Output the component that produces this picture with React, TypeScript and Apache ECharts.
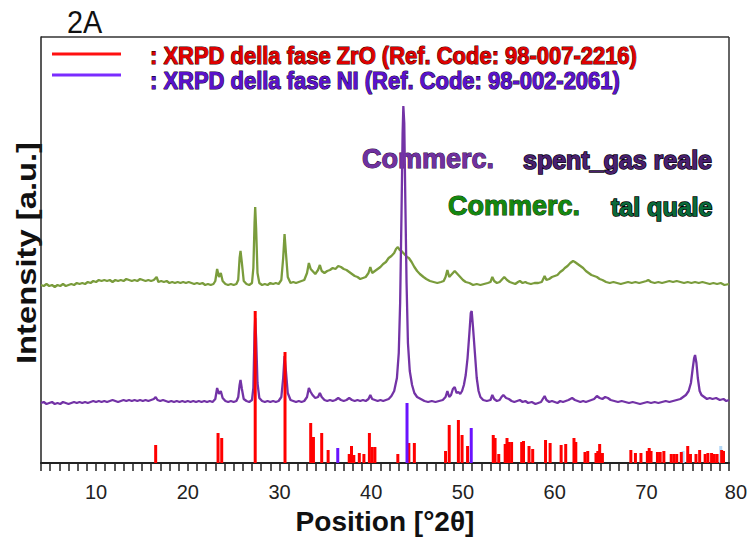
import React, { useEffect, useRef } from "react";
import * as echarts from "echarts";

// Commerc. tal quale (green) – [2θ, intensity]
const talQuale: number[][] = [
  [4.0,178],[4.3,177],[4.6,179],[4.9,177],[5.2,178],[5.5,176],[5.8,178],[6.1,177],[6.4,179],[6.7,177],[7.0,178],[7.3,179],[7.6,178],[7.9,180],[8.2,179],[8.5,180],[8.8,179],[9.1,181],[9.4,180],[9.7,182],[10.0,181],[10.3,183],[10.6,182],[10.9,183],[11.2,182],[11.5,183],[11.8,181],[12.1,183],[12.4,182],[12.7,183],[13.0,182],[13.3,184],[13.6,183],[13.9,182],[14.2,183],[14.5,182],[14.8,184],[15.1,183],[15.4,182],[15.7,183],[16.0,182],[16.3,183],[16.6,186],[16.8,181],[17.1,182],[17.4,181],[17.7,182],[18.0,180],[18.3,181],[18.6,180],[18.9,181],[19.2,180],[19.5,181],[19.8,180],[20.1,181],[20.4,180],[20.7,179],[21.0,180],[21.3,179],[21.6,180],[21.9,178],[22.2,179],[22.5,178],[22.8,179],
  [23.0,182],[23.2,194],[23.4,186],[23.6,190],[23.8,182],[24.1,179],[24.4,178],[24.7,179],[25.0,178],[25.3,179],[25.5,183],[25.65,205],[25.75,212],[25.9,200],[26.1,182],[26.4,179],[26.7,178],[27.0,180],[27.15,195],[27.28,240],[27.35,256],[27.45,235],[27.6,190],[27.8,180],[28.1,178],[28.4,179],[28.7,178],[29.0,180],[29.3,179],[29.6,180],[29.9,179],[30.2,183],[30.4,205],[30.55,229],[30.7,210],[30.9,186],[31.2,180],[31.5,181],[31.8,180],[32.1,181],[32.4,182],[32.7,183],
  [33.0,190],[33.2,200],[33.4,194],[33.6,192],[33.9,189],[34.2,193],[34.4,198],[34.6,192],[34.9,190],[35.2,192],[35.5,193],[35.8,195],[36.1,194],[36.4,197],[36.7,196],[37.0,194],[37.3,193],[37.6,191],[37.9,189],[38.2,187],[38.5,186],[38.8,184],[39.1,185],[39.4,186],[39.7,190],[39.9,196],[40.1,190],[40.4,192],[40.7,194],[41.0,196],[41.3,199],[41.6,201],[41.9,205],[42.2,207],[42.5,210],[42.7,214],[42.9,216],[43.1,213],[43.3,212],[43.5,210],[43.7,208],[43.9,206],[44.1,205],[44.4,201],[44.7,196],[45.0,192],[45.3,189],[45.7,186],[46.0,184],[46.4,182],[46.8,181],[47.2,180],[47.6,181],[47.9,182],
  [48.1,186],[48.3,193],[48.5,186],[48.7,188],[48.9,190],[49.1,192],[49.3,190],[49.5,188],[49.7,186],[50.0,183],[50.3,181],[50.7,180],[51.1,178],[51.5,179],[51.9,178],[52.3,179],[52.7,180],[53.0,181],[53.2,186],[53.4,182],[53.7,180],[54.0,181],[54.3,184],[54.5,186],[54.8,183],[55.1,181],[55.4,180],[55.7,179],[56.0,181],[56.2,182],[56.5,180],[56.8,181],[57.0,180],[57.4,179],[57.8,180],[58.2,180],[58.6,181],[58.9,187],[59.1,183],[59.4,184],[59.7,186],[60.0,187],[60.3,188],[60.6,191],[60.9,193],[61.1,195],[61.4,197],[61.7,200],[62.0,202],[62.2,201],[62.5,199],[62.8,197],[63.1,195],[63.4,192],[63.7,190],[64.0,188],[64.3,187],[64.6,186],[64.9,184],[65.2,183],[65.6,181],
  [66.0,180],[66.4,181],[66.8,180],[67.2,179],[67.6,180],[68.0,181],[68.4,180],[68.8,181],[69.2,180],[69.6,181],[70.0,182],[70.2,183],[70.5,181],[70.9,180],[71.3,181],[71.7,180],[72.1,181],[72.5,182],[72.9,181],[73.3,182],[73.7,181],[74.1,180],[74.5,181],[74.9,180],[75.3,181],[75.7,180],[76.1,181],[76.5,180],[76.9,179],[77.3,180],[77.7,179],[78.1,180],[78.5,178],[79.0,179]
];

// Commerc. spent_gas reale (purple)
const spentGas: number[][] = [
  [4.0,60],[4.3,61],[4.6,59],[4.9,60],[5.2,61],[5.5,59],[5.8,60],[6.1,59],[6.4,61],[6.7,60],[7.0,59],[7.3,60],[7.6,61],[7.9,60],[8.2,61],[8.5,60],[8.8,61],[9.1,60],[9.4,61],[9.7,62],[10.0,61],[10.3,62],[10.6,61],[10.9,62],[11.2,61],[11.5,62],[11.8,63],[12.1,62],[12.4,61],[12.7,62],[13.0,63],[13.3,62],[13.6,63],[13.9,62],[14.2,63],[14.5,62],[14.8,63],[15.1,62],[15.4,63],[15.7,62],[16.0,63],[16.3,64],[16.5,66],[16.7,63],[17.0,62],[17.3,63],[17.6,62],[17.9,61],[18.2,62],[18.5,61],[18.8,62],[19.1,61],[19.4,62],[19.7,61],[20.0,62],[20.3,61],[20.6,62],[20.9,61],[21.2,62],[21.5,61],[21.8,62],[22.1,61],[22.4,62],[22.7,61],
  [23.0,64],[23.2,75],[23.4,69],[23.6,72],[23.8,65],[24.1,62],[24.4,61],[24.7,62],[25.0,61],[25.3,62],[25.5,66],[25.65,78],[25.75,83],[25.9,74],[26.1,64],[26.4,62],[26.7,61],[27.0,63],[27.15,75],[27.28,130],[27.35,145],[27.45,125],[27.6,80],[27.8,65],[28.1,62],[28.4,61],[28.7,62],[29.0,61],[29.3,62],[29.6,61],[29.9,62],[30.2,66],[30.4,85],[30.55,107],[30.7,92],[30.9,70],[31.2,63],[31.5,62],[31.8,61],[32.1,62],[32.4,61],[32.7,62],
  [33.0,66],[33.2,75],[33.4,71],[33.6,68],[33.9,65],[34.2,66],[34.4,70],[34.6,66],[34.9,63],[35.2,62],[35.5,63],[35.8,62],[36.1,63],[36.4,65],[36.7,63],[37.0,62],[37.3,63],[37.6,65],[37.9,63],[38.2,62],[38.5,63],[38.8,62],[39.1,63],[39.4,62],[39.7,64],[39.9,68],[40.1,64],[40.4,63],[40.7,62],[41.0,63],[41.3,62],[41.6,63],[41.9,64],[42.2,67],[42.5,72],[42.8,85],[43.0,110],[43.15,160],[43.3,250],[43.42,330],[43.5,357],[43.6,340],[43.72,260],[43.85,180],[44.0,120],[44.2,92],[44.45,78],[44.7,70],[45.0,66],[45.4,64],[45.8,62],[46.2,61],[46.6,62],[47.0,61],[47.4,62],[47.8,63],
  [48.1,66],[48.3,72],[48.5,66],[48.7,68],[48.9,74],[49.1,76],[49.3,70],[49.5,71],[49.7,69],[49.9,72],[50.1,78],[50.3,88],[50.5,105],[50.7,130],[50.85,150],[50.95,152],[51.1,135],[51.3,110],[51.5,85],[51.7,72],[51.9,66],[52.2,63],[52.6,62],[53.0,63],[53.2,68],[53.4,64],[53.7,62],[54.0,63],[54.2,66],[54.4,68],[54.7,65],[55.0,64],[55.3,62],[55.6,61],[55.9,62],[56.2,63],[56.5,61],[56.8,62],[57.1,60],[57.5,61],[57.9,59],[58.2,60],[58.5,61],[58.9,67],[59.1,63],[59.4,61],[59.7,62],[60.0,61],[60.3,60],[60.6,62],[60.9,61],[61.2,62],[61.5,63],[61.9,65],[62.2,63],[62.5,62],[62.8,61],[63.1,62],[63.4,61],[63.7,62],[64.0,63],[64.3,64],[64.6,67],[64.9,65],[65.2,64],[65.5,66],[65.8,65],
  [66.1,63],[66.5,62],[66.9,61],[67.3,62],[67.7,61],[68.1,60],[68.5,61],[68.9,60],[69.3,59],[69.7,60],[70.1,61],[70.5,60],[70.9,61],[71.3,60],[71.7,61],[72.1,62],[72.5,61],[72.9,62],[73.3,63],[73.7,64],[74.0,66],[74.3,68],[74.6,72],[74.85,80],[75.05,95],[75.2,105],[75.3,108],[75.45,100],[75.6,85],[75.8,72],[76.0,68],[76.3,66],[76.6,64],[76.9,65],[77.2,64],[77.6,65],[78.0,63],[78.4,64],[78.7,62],[79.0,63]
];

// Reference pattern ZrO (Ref. Code 98-007-2216)
const zroPos = [16.5,23.3,23.7,27.35,30.6,33.4,33.7,34.6,35.3,37.6,37.85,38.1,38.7,39.2,39.8,40.1,40.4,42.9,44.1,44.7,48.1,48.5,49.5,49.9,50.5,53.3,53.5,53.9,54.6,54.8,55.0,55.3,56.4,56.6,57.2,57.6,59.0,59.5,60.7,61.2,62.1,62.3,63.3,63.6,64.5,64.7,64.9,65.2,68.3,68.8,69.4,70.1,70.3,70.5,71.2,71.5,71.9,72.7,73.0,73.3,73.8,74.5,74.8,75.4,75.8,76.4,76.7,77.1,77.4,77.7,78.2,78.4];
const zroInt = [18,30,25,152,111,40,26,30,13,9,17,8,10,9,30,16,16,9,20,20,12,38,43,28,17,28,25,9,19,25,21,21,21,22,17,14,23,20,18,19,25,21,11,12,10,12,19,10,13,10,10,12,15,12,11,11,12,9,9,9,11,17,9,9,13,9,10,10,9,9,13,12];

// Reference pattern Ni (Ref. Code 98-002-2061)
const niPos = [36.35, 43.9, 50.9];
const niInt = [15, 60, 35];

// faint extra reference marks
const extraPos = [74.0, 78.1];
const extraInt = [12, 17];

const xLabelsShown = [10, 20, 30, 40, 50, 60, 70];

const legendZro = ": XRPD della fase ZrO (Ref. Code: 98-007-2216)";
const legendNi = ": XRPD della fase NI (Ref. Code: 98-002-2061)";

const FF = '"Liberation Sans", Arial, sans-serif';

export default function App() {
  const ref = useRef<HTMLDivElement>(null);
  useEffect(() => {
    document.body.style.margin = "0";
    const chart = echarts.init(ref.current!, null, { renderer: "svg" });
    const zip = (p: number[], v: number[]) => p.map((x, i) => [x, v[i]]);
    const labelStyle = { color: "#222", fontSize: 20, fontFamily: FF, margin: 19 };
    chart.setOption({
      animation: false,
      backgroundColor: "#fff",
      grid: [
        { left: 41, right: 21, top: 37, bottom: 76 },
        { left: 41, right: 11.3, top: 37, bottom: 76 },
      ],
      xAxis: [
        {
          type: "value", gridIndex: 0, min: 4, max: 79, interval: 1,
          axisLine: { show: true, lineStyle: { color: "#222", width: 2 } },
          axisTick: { show: true, length: 8, lineStyle: { color: "#222", width: 1.5 } },
          axisLabel: { ...labelStyle, formatter: (v: number) => (xLabelsShown.includes(v) ? String(v) : "") },
          splitLine: { show: false },
        },
        {
          type: "value", gridIndex: 1, min: 4, max: 80, interval: 1,
          axisLine: { show: false }, axisTick: { show: false }, splitLine: { show: false },
          axisLabel: { ...labelStyle, formatter: (v: number) => (v === 80 ? "80" : "") },
        },
      ],
      yAxis: [
        {
          type: "value", gridIndex: 0, min: 0, max: 426,
          axisLine: { show: true, lineStyle: { color: "#222", width: 1.5 } },
          axisTick: { show: false }, axisLabel: { show: false }, splitLine: { show: false },
        },
        { type: "value", gridIndex: 1, min: 0, max: 426, show: false },
      ],
      series: [
        {
          type: "line", data: talQuale, showSymbol: false, symbol: "none", z: 2,
          lineStyle: { color: "#7a9c3c", width: 2.3 },
        },
        {
          type: "line", data: spentGas, showSymbol: false, symbol: "none", z: 2,
          lineStyle: { color: "#7333a6", width: 2.3 },
        },
        {
          type: "bar", data: zip(extraPos, extraInt), barWidth: 3, barGap: "-100%", z: 3,
          itemStyle: { color: "#b5d9f7" },
        },
        {
          type: "bar", data: zip(zroPos, zroInt), barWidth: 3, barGap: "-100%", z: 4,
          itemStyle: { color: "#ff0000" },
        },
        {
          type: "bar", data: zip(niPos, niInt), barWidth: 3, barGap: "-100%", z: 4,
          itemStyle: { color: "#6a14ff" },
        },
      ],
      graphic: [
        { type: "line", shape: { x1: 41, y1: 37, x2: 729, y2: 37 }, style: { stroke: "#333", lineWidth: 1.5 } },
        { type: "line", shape: { x1: 729, y1: 37, x2: 729, y2: 463 }, style: { stroke: "#333", lineWidth: 1.5 } },
        { type: "line", shape: { x1: 52, y1: 54, x2: 121, y2: 54 }, style: { stroke: "#ff1010", lineWidth: 3 } },
        { type: "line", shape: { x1: 52, y1: 75, x2: 121, y2: 75 }, style: { stroke: "#7a2cff", lineWidth: 3 } },
        {
          type: "text", x: 67, y: 21, scaleX: 0.9,
          style: { text: "2A", x: 0, y: 0, fill: "#111", font: `32px ${FF}`, align: "left", verticalAlign: "middle" },
        },
        {
          type: "text", x: 150, y: 56, scaleX: 0.915,
          style: { text: legendZro, x: 0, y: 0, fill: "#e00000", stroke: "#300000", lineWidth: 1.1, font: `bold 24px ${FF}`, align: "left", verticalAlign: "middle" },
        },
        {
          type: "text", x: 150, y: 81, scaleX: 0.915,
          style: { text: legendNi, x: 0, y: 0, fill: "#5a12cc", stroke: "#12002e", lineWidth: 1.1, font: `bold 24px ${FF}`, align: "left", verticalAlign: "middle" },
        },
        {
          type: "text", x: 362, y: 159,
          style: { text: "Commerc.", x: 0, y: 0, fill: "#7030a0", stroke: "#2a0a40", lineWidth: 1, font: `bold 27px ${FF}`, align: "left", verticalAlign: "middle" },
        },
        {
          type: "text", x: 523, y: 160,
          style: { text: "spent_gas reale", x: 0, y: 0, fill: "#4a2070", stroke: "#08000f", lineWidth: 1.5, font: `bold 25px ${FF}`, align: "left", verticalAlign: "middle" },
        },
        {
          type: "text", x: 448, y: 206,
          style: { text: "Commerc.", x: 0, y: 0, fill: "#14880f", stroke: "#033000", lineWidth: 1, font: `bold 27px ${FF}`, align: "left", verticalAlign: "middle" },
        },
        {
          type: "text", x: 611, y: 207,
          style: { text: "tal quale", x: 0, y: 0, fill: "#0a6a3a", stroke: "#000", lineWidth: 1.5, font: `bold 25px ${FF}`, align: "left", verticalAlign: "middle" },
        },
        {
          type: "text", x: 385, y: 521,
          style: { text: "Position [°2θ]", x: 0, y: 0, fill: "#111", font: `bold 28px ${FF}`, align: "center", verticalAlign: "middle" },
        },
        {
          type: "text", x: 26, y: 253, rotation: Math.PI / 2, scaleX: 1.17,
          style: { text: "Intensity [a.u.]", x: 0, y: 0, fill: "#111", font: `bold 28px ${FF}`, align: "center", verticalAlign: "middle" },
        },
      ],
    });
    return () => chart.dispose();
  }, []);
  return <div ref={ref} style={{ width: 750, height: 539 }} />;
}
